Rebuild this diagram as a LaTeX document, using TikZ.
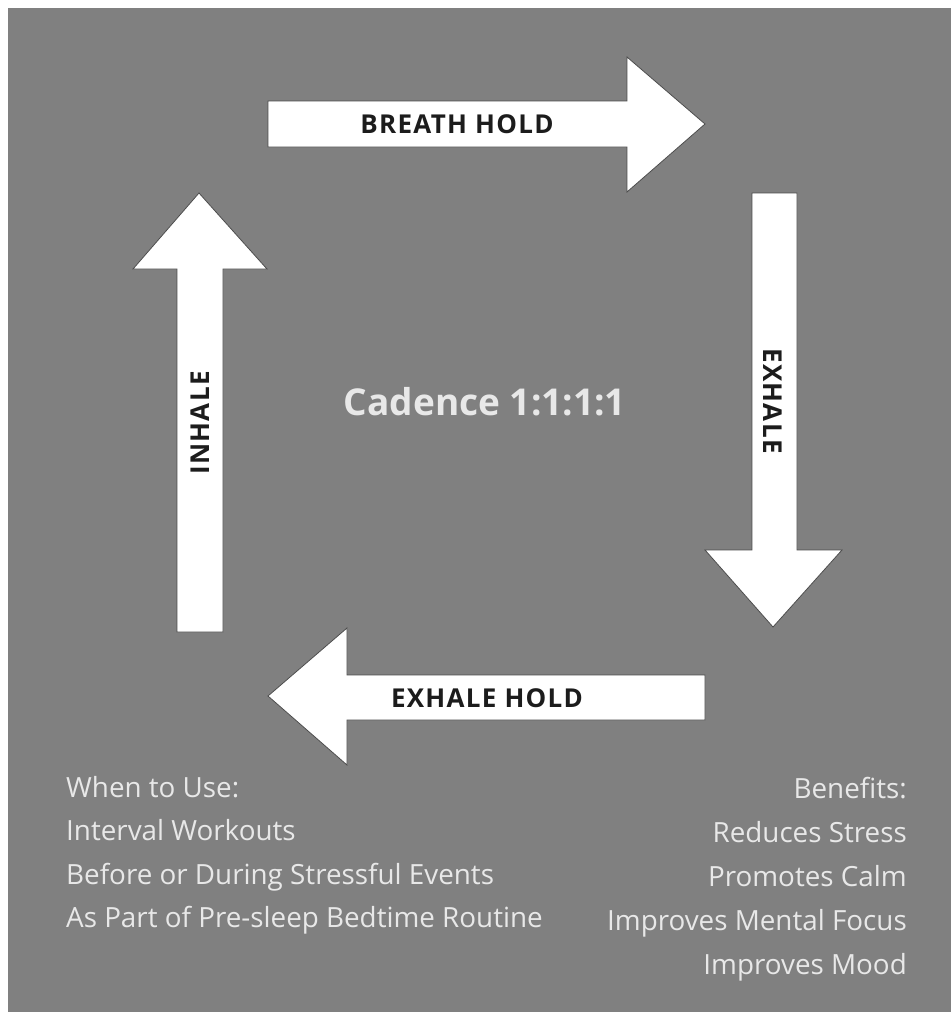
\documentclass[tikz,border=0pt]{standalone}
\usepackage{fontspec}
\setmainfont{Open Sans}
\definecolor{bgGray}{RGB}{128,128,128}
\definecolor{txtLight}{RGB}{232,232,232}
\definecolor{lblDark}{RGB}{28,28,28}

\begin{document}
\begin{tikzpicture}[x=1pt, y=-1pt,
  blk/.style={fill=white, draw=black!70, line width=0.8pt, line join=miter},
  lbl/.style={font=\fontsize{26}{26}\selectfont\bfseries\addfontfeatures{LetterSpace=5}, text=lblDark, inner sep=0pt},
  info/.style={font=\fontsize{27.8}{27.8}\selectfont, text=txtLight, inner sep=0pt}]
\useasboundingbox (0,0) rectangle (951,1021);
\fill[white] (0,0) rectangle (951,1021);
\fill[bgGray] (8,8) rectangle (951,1012);
% four arrows of the cycle
\draw[blk] (268,101) -- (627,101) -- (627,57) -- (705,124) -- (627,192) -- (627,147) -- (268,147) -- cycle;
\draw[blk] (752,193) -- (797,193) -- (797,550) -- (842,550) -- (773,627) -- (705,550) -- (752,550) -- cycle;
\draw[blk] (705,675) -- (347,675) -- (347,628) -- (268,696) -- (347,765) -- (347,720) -- (705,720) -- cycle;
\draw[blk] (177,632) -- (177,269) -- (133,269) -- (199,193) -- (267,269) -- (223,269) -- (223,632) -- cycle;
\node[lbl, anchor=base] (hold) at (457,133) {BREATH HOLD};
\node[lbl, rotate=-90] (exh) at (773,401) {EXHALE};
\node[lbl, anchor=base] (exhold) at (487,707) {EXHALE HOLD};
\node[lbl, rotate=90] (inh) at (200,423) {INHALE};
\node[font=\fontsize{37}{37}\selectfont\bfseries, text=txtLight, inner sep=0pt, anchor=base] (cad) at (485,415) {Cadence 1:1:1:1};
% when to use / benefits
\foreach \t [count=\i] in {When to Use:, Interval Workouts, Before or During Stressful Events, As Part of Pre-sleep Bedtime Routine}
  \node[info, anchor=base west] (use\i) at (66,{754+43.4*\i}) {\t};
\foreach \t [count=\i] in {Benefits:, Reduces Stress, Promotes Calm, Improves Mental Focus, Improves Mood}
  \node[info, anchor=base east] (ben\i) at (907,{754+44*\i}) {\t};
\end{tikzpicture}
\end{document}
